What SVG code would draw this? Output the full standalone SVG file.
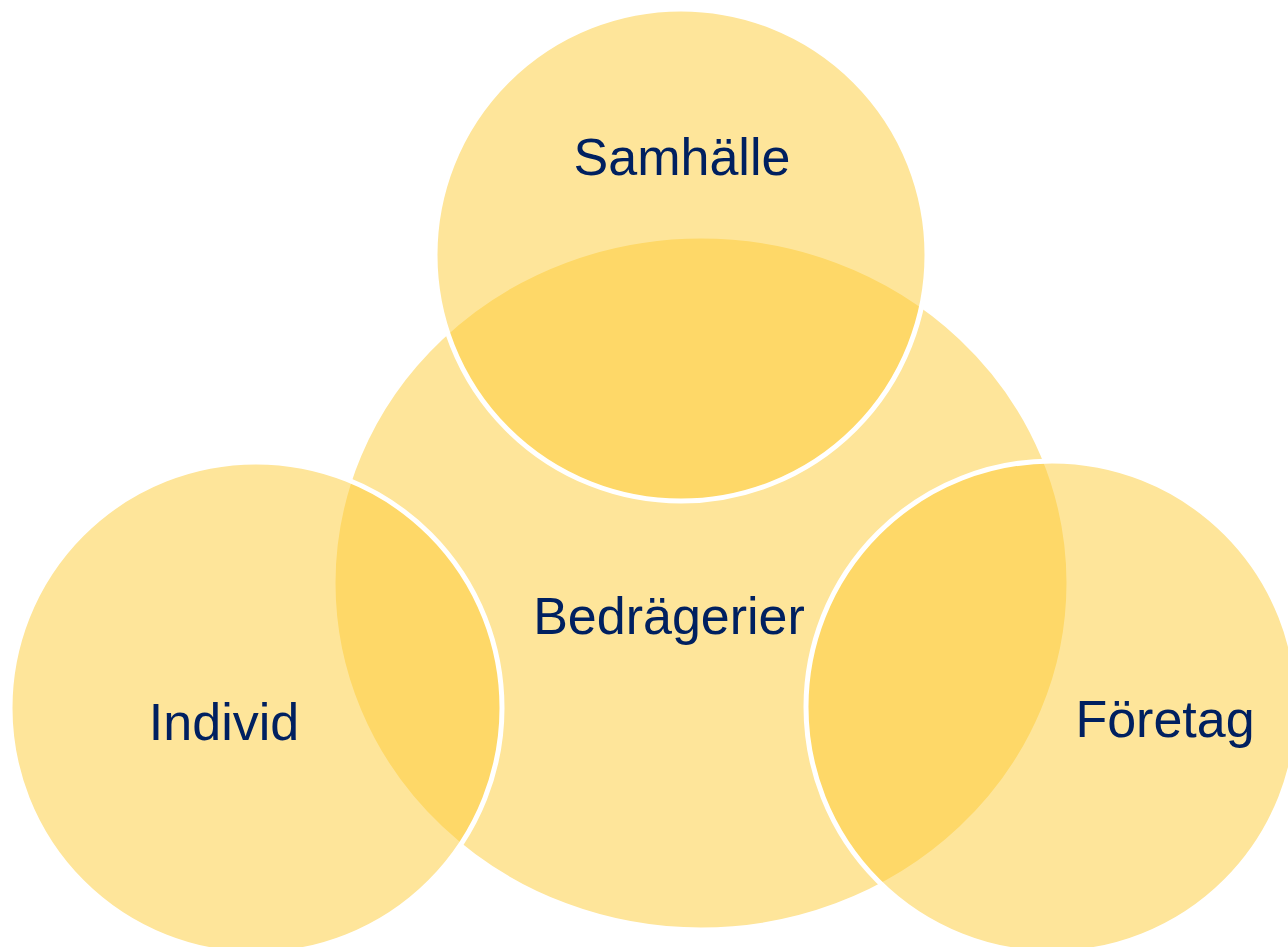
<svg xmlns="http://www.w3.org/2000/svg" width="1288" height="947" viewBox="0 0 1288 947">
  <style>
    .c { fill: #FDCB35; fill-opacity: 0.5; stroke: #FFFFFF; stroke-width: 5; }
    .t { font-family: "Liberation Sans", Arial, sans-serif; font-size: 52px; fill: #002060; text-anchor: middle; }
  </style>
  <rect width="1288" height="947" fill="#FFFFFF"/>
  <g id="bedragerier">
    <ellipse class="c" cx="701" cy="583" rx="368" ry="347"/>
  </g>
  <g id="samhalle">
    <circle class="c" cx="681" cy="255" r="246"/>
  </g>
  <g id="individ">
    <circle class="c" cx="256" cy="708" r="246"/>
  </g>
  <g id="foretag">
    <circle class="c" cx="1052" cy="707" r="246"/>
  </g>
  <g id="labels">
    <text class="t" x="682" y="175">Samhälle</text>
    <text class="t" x="669" y="634">Bedrägerier</text>
    <text class="t" x="224" y="740">Individ</text>
    <text class="t" x="1165" y="737">Företag</text>
  </g>
  <g id="connectors"/>
</svg>
